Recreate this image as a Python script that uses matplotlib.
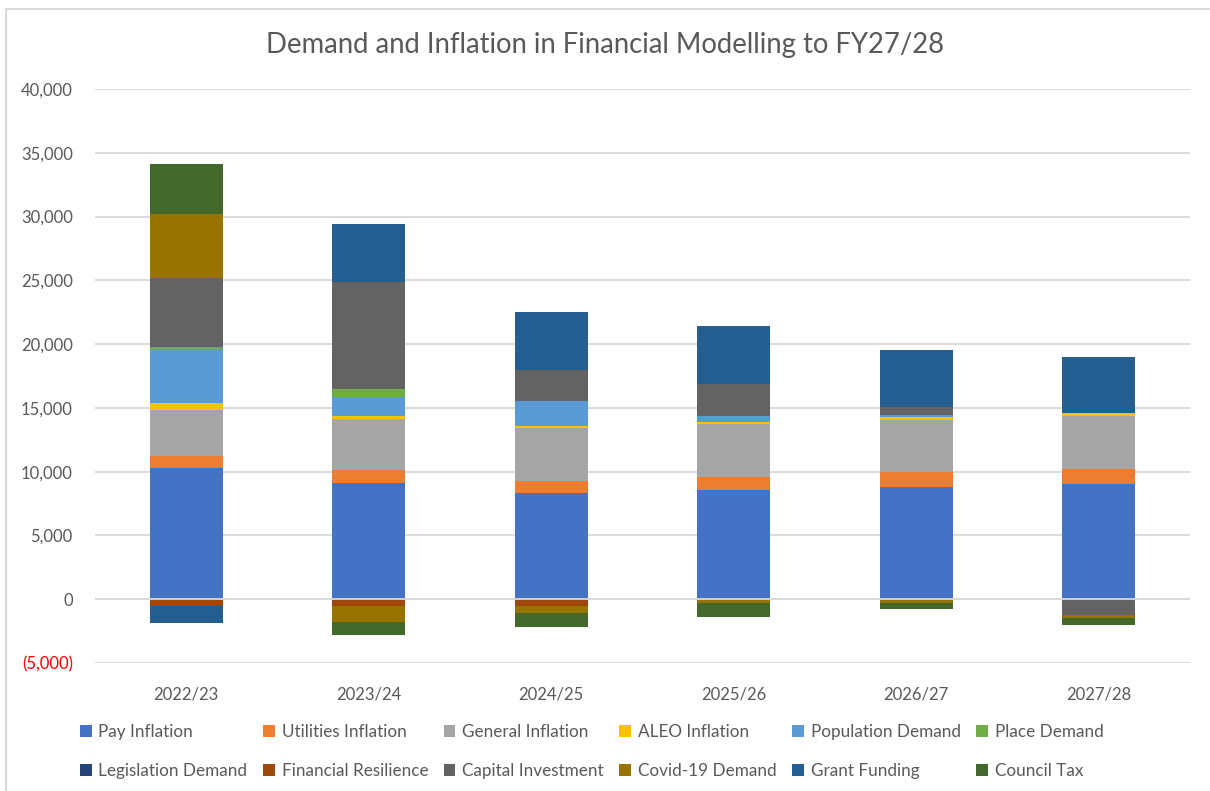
import numpy as np
import matplotlib
matplotlib.use("Agg")
import matplotlib.pyplot as plt
from matplotlib.lines import Line2D

plt.rcParams['font.family'] = ['Lato', 'DejaVu Sans']

# Financial years on the x axis
years = ['2022/23', '2023/24', '2024/25', '2025/26', '2026/27', '2027/28']

# Series values (in £k)
pay_inflation = [10250, 9100, 8300, 8550, 8800, 9000]
utilities_inflation = [950, 1000, 970, 1070, 1150, 1180]
general_inflation = [3600, 4050, 4130, 4080, 4080, 4150]
aleo_inflation = [600, 230, 200, 230, 260, 240]
population_demand = [4100, 1470, 1970, 400, 150, 0]
place_demand = [250, 650, 0, 0, 0, 0]
legislation_demand = [0, 0, 0, 0, 0, 0]
financial_resilience = [-550, -500, -550, 0, 0, 0]
capital_investment = [5400, 8370, 2400, 2530, 630, -1250]
covid_demand = [5070, -1280, -550, -300, -300, -240]
grant_funding = [-1350, 4570, 4580, 4530, 4450, 4450]
council_tax = [3890, -1000, -1070, -1060, -500, -500]

series = [
    ('Pay Inflation', pay_inflation, '#4472C4'),
    ('Utilities Inflation', utilities_inflation, '#ED7D31'),
    ('General Inflation', general_inflation, '#A5A5A5'),
    ('ALEO Inflation', aleo_inflation, '#FFC000'),
    ('Population Demand', population_demand, '#5B9BD5'),
    ('Place Demand', place_demand, '#70AD47'),
    ('Legislation Demand', legislation_demand, '#264478'),
    ('Financial Resilience', financial_resilience, '#9E480E'),
    ('Capital Investment', capital_investment, '#636363'),
    ('Covid-19 Demand', covid_demand, '#997300'),
    ('Grant Funding', grant_funding, '#255E91'),
    ('Council Tax', council_tax, '#43682B'),
]

text_col = '#595959'
grid_col = '#D9D9D9'

fig = plt.figure(figsize=(12.1, 7.91), dpi=100)
ax = fig.add_axes([0.0785, 0.1618, 0.905, 0.7257])

x = np.arange(len(years))
pos_bottom = np.zeros(len(years))
neg_bottom = np.zeros(len(years))
handles = []

# Stack positives upwards and negatives downwards, like Excel does
for name, vals, col in series:
    vals = np.array(vals, dtype=float)
    bottom = np.where(vals >= 0, pos_bottom, neg_bottom)
    bars = ax.bar(x, vals, width=0.4, bottom=bottom, color=col, label=name, zorder=2)
    handles.append(bars)
    pos_bottom += np.where(vals >= 0, vals, 0)
    neg_bottom += np.where(vals < 0, vals, 0)

# zero line sits on top of the bars
ax.axhline(0, color=grid_col, lw=1.3, zorder=3)

ax.set_xlim(-0.5, len(years) - 0.5)
ax.set_ylim(-5000, 40000)
yticks = np.arange(-5000, 40001, 5000)
ax.set_yticks(yticks)
ylabels = []
for t in yticks:
    if t < 0:
        ylabels.append('({:,})'.format(-t))
    else:
        ylabels.append('{:,}'.format(t))
ax.set_yticklabels(ylabels)
for lab, t in zip(ax.get_yticklabels(), yticks):
    lab.set_color('#FF0000' if t < 0 else text_col)

ax.set_xticks(x)
ax.set_xticklabels(years, color=text_col)
ax.tick_params(axis='both', length=0, labelsize=12)
ax.tick_params(axis='y', pad=16)
ax.tick_params(axis='x', pad=17)

ax.grid(axis='y', color=grid_col, lw=1.3, zorder=0)
ax.set_axisbelow(True)
for sp in ax.spines.values():
    sp.set_visible(False)

fig.text(0.5, 0.943, 'Demand and Inflation in Financial Modelling to FY27/28',
         ha='center', va='center', fontsize=19.8, color=text_col)

# Excel fills the legend row by row, matplotlib column by column
order = []
for c in range(6):
    order.append(c)
    order.append(c + 6)
leg = fig.legend([handles[i] for i in order], [series[i][0] for i in order],
                 ncol=6, loc='center', bbox_to_anchor=(0.489, 0.050),
                 frameon=False, fontsize=12.3, handlelength=0.7, handleheight=0.7,
                 handletextpad=0.4, columnspacing=0.9, labelspacing=1.35,
                 labelcolor=text_col)

# chart area border (top and left edge visible)
fig.add_artist(Line2D([0.005, 0.005], [0.0, 0.989], color=grid_col, lw=1.5,
                      transform=fig.transFigure))
fig.add_artist(Line2D([0.005, 1.0], [0.989, 0.989], color=grid_col, lw=1.5,
                      transform=fig.transFigure))

fig.savefig('out.png', dpi=100)
